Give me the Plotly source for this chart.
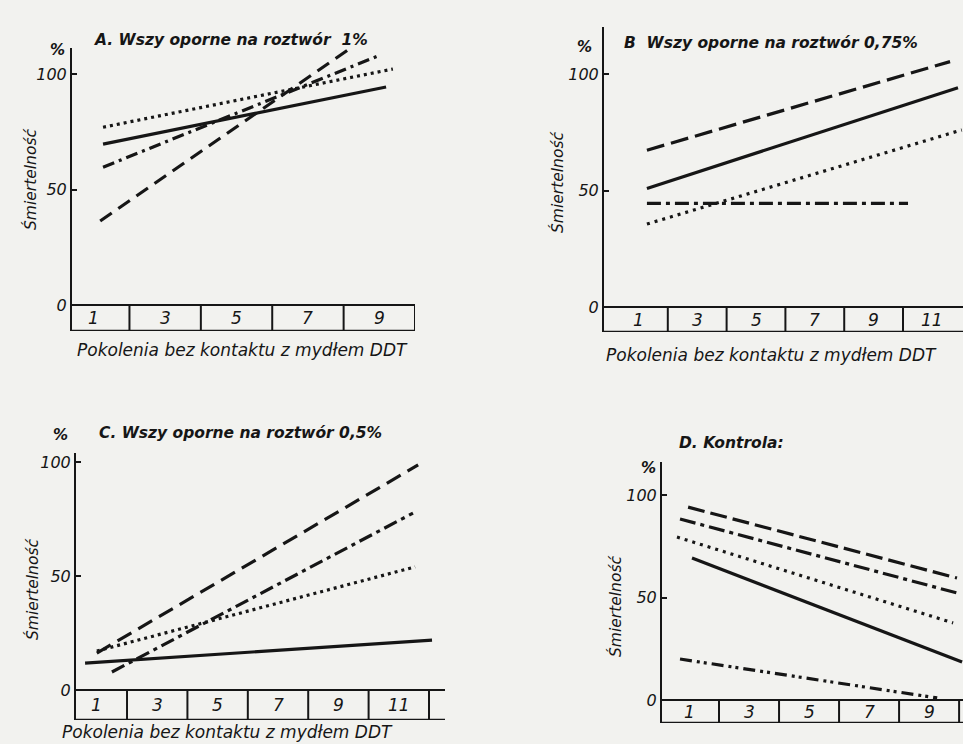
import plotly.graph_objects as go

W, H = 963, 744
INK = "#161616"
BG = "#f2f2ef"

# ---------------- data ----------------
# Panel A: Wszy oporne na roztwór 1%
A_solid_x = [1.26, 9.19];  A_solid_y = [69.7, 94.4]
A_dot_x = [1.26, 9.38];    A_dot_y = [77.0, 102.2]
A_dashdot_x = [1.26, 9.02]; A_dashdot_y = [59.7, 108.2]
A_dash_x = [1.18, 8.52];   A_dash_y = [36.4, 114.7]
A_cells = ["1", "3", "5", "7", "9"]

# Panel B: 0,75%
B_dash_x = [1.29, 11.6];   B_dash_y = [67.3, 105.3]
B_solid_x = [1.29, 11.87]; B_solid_y = [50.9, 94.1]
B_dot_x = [1.29, 12.0];    B_dot_y = [35.6, 76.0]
B_dashdot_x = [1.29, 10.17]; B_dashdot_y = [44.5, 44.5]
B_cells = ["1", "3", "5", "7", "9", "11"]

# Panel C: 0,5%
C_dash_x = [1.0, 11.64];   C_dash_y = [16.2, 98.7]
C_dashdot_x = [1.5, 11.47]; C_dashdot_y = [7.9, 77.6]
C_dot_x = [1.0, 11.54];    C_dot_y = [17.1, 54.0]
C_solid_x = [0.61, 12.1];  C_solid_y = [11.8, 21.9]
C_cells = ["1", "3", "5", "7", "9", "11"]

# Panel D: Kontrola
D_dash_x = [0.97, 9.93];   D_dash_y = [94.1, 59.5]
D_dashdot_x = [0.7, 9.93]; D_dashdot_y = [88.3, 52.2]
D_dot_x = [0.6, 9.8];      D_dot_y = [79.5, 37.6]
D_solid_x = [1.1, 10.1];   D_solid_y = [69.3, 18.5]
D_ddd_x = [0.7, 9.27];     D_ddd_y = [20.0, 1.0]
D_cells = ["1", "3", "5", "7", "9"]

Y_TICKS = [0, 50, 100]
Y_TICKTEXT = ["0", "50", "100"]
X_TITLE = "Pokolenia bez kontaktu z mydłem DDT"
Y_TITLE = "Śmiertelność"

# ---------------- layout geometry (pixels) ----------------
panels = [
    dict(name="A", left=72, right=415, top=48, bottom=331, xr=[0.39, 10.0], yr=[-11.26, 111.3],
         dividers=[2, 4, 6, 8, 10], cells=A_cells,
         title="A. Wszy oporne na roztwór  1%", tx=92, ty=40,
         pct=(57, 50), ytitle=(30, 180), xtitle=(242, 350)),
    dict(name="B", left=604, right=963, top=27, bottom=332, xr=[-0.17, 12.04], yr=[-10.73, 120.17],
         dividers=[2, 4, 6, 8, 10], cells=B_cells,
         title="B  Wszy oporne na roztwór 0,75%", tx=622, ty=43,
         pct=(584, 47), ytitle=(557, 183), xtitle=(771, 355)),
    dict(name="C", left=76, right=445, top=453, bottom=720, xr=[0.31, 12.53], yr=[-13.16, 103.95],
         dividers=[2, 4, 6, 8, 10, 12], cells=C_cells,
         title="C. Wszy oporne na roztwór 0,5%", tx=97, ty=433,
         pct=(60, 435), ytitle=(32, 590), xtitle=(227, 732)),
    dict(name="D", left=662, right=963, top=462, bottom=723, xr=[0.1, 10.13], yr=[-11.22, 116.1],
         dividers=[2, 4, 6, 8, 10], cells=D_cells,
         title="D. Kontrola:", tx=677, ty=443,
         pct=(648, 468), ytitle=(615, 607), xtitle=None),
]

series = {
    "A": [(A_solid_x, A_solid_y, "solid"), (A_dot_x, A_dot_y, "3px,4px"),
          (A_dashdot_x, A_dashdot_y, "12px,5px,3px,5px"), (A_dash_x, A_dash_y, "14px,8px")],
    "B": [(B_dash_x, B_dash_y, "18px,7px"), (B_solid_x, B_solid_y, "solid"),
          (B_dot_x, B_dot_y, "3px,5px"), (B_dashdot_x, B_dashdot_y, "14px,5px,4px,5px")],
    "C": [(C_dash_x, C_dash_y, "16px,8px"), (C_dashdot_x, C_dashdot_y, "14px,5px,4px,5px"),
          (C_dot_x, C_dot_y, "3px,4px"), (C_solid_x, C_solid_y, "solid")],
    "D": [(D_dash_x, D_dash_y, "17px,6px"), (D_dashdot_x, D_dashdot_y, "16px,5px,4px,5px"),
          (D_dot_x, D_dot_y, "3px,5px"), (D_solid_x, D_solid_y, "solid"),
          (D_ddd_x, D_ddd_y, "12px,5px,3px,4px,3px,5px")],
}

FONT = "DejaVu Sans"
fig = go.Figure()
shapes = []
annotations = []

def px_x(p):
    return p / W

def px_y(p):
    return 1 - p / H

for i, p in enumerate(panels):
    n = "" if i == 0 else str(i + 1)
    xa, ya = "x" + n, "y" + n
    for xs, ys, dash in series[p["name"]]:
        fig.add_trace(go.Scatter(x=xs, y=ys, mode="lines", xaxis=xa, yaxis=ya,
                                 line=dict(color=INK, width=3.2, dash=dash),
                                 showlegend=False, hoverinfo="skip"))
    fig.layout["xaxis" + n] = dict(domain=[px_x(p["left"]), min(px_x(p["right"]), 1)],
                                    range=p["xr"], visible=False, anchor=ya, fixedrange=True)
    fig.layout["yaxis" + n] = dict(domain=[px_y(p["bottom"]), px_y(p["top"])],
                                    range=p["yr"], anchor=xa, showline=True, linecolor=INK,
                                    linewidth=2, showgrid=False, zeroline=False,
                                    tickvals=Y_TICKS, ticktext=Y_TICKTEXT,
                                    ticks="inside", ticklen=5, tickwidth=2, tickcolor=INK,
                                    tickfont=dict(family=FONT, size=16, color=INK, style="italic"),
                                    fixedrange=True)
    x0, x1 = p["xr"]
    y0 = p["yr"][0]
    # cell box under the axis
    shapes.append(dict(type="line", xref=xa, yref=ya, x0=x0, x1=x1, y0=0, y1=0,
                       line=dict(color=INK, width=2)))
    shapes.append(dict(type="line", xref=xa, yref=ya, x0=x0, x1=x1, y0=y0, y1=y0,
                       line=dict(color=INK, width=2.5)))
    for d in p["dividers"]:
        shapes.append(dict(type="line", xref=xa, yref=ya, x0=d, x1=d, y0=y0, y1=0,
                           line=dict(color=INK, width=2)))
    for k, lab in enumerate(p["cells"]):
        annotations.append(dict(x=1 + 2 * k, y=y0 / 2, xref=xa, yref=ya, text=lab,
                                showarrow=False,
                                font=dict(family=FONT, size=17, color=INK, style="italic")))
    # titles
    annotations.append(dict(x=px_x(p["tx"]), y=px_y(p["ty"]), xref="paper", yref="paper",
                            text=p["title"], showarrow=False, xanchor="left", yanchor="middle",
                            font=dict(family=FONT, size=15.5, color=INK, style="italic", weight="bold")))
    annotations.append(dict(x=px_x(p["pct"][0]), y=px_y(p["pct"][1]), xref="paper", yref="paper",
                            text="%", showarrow=False, xanchor="center", yanchor="middle",
                            font=dict(family=FONT, size=15, color=INK, style="italic", weight="bold")))
    annotations.append(dict(x=px_x(p["ytitle"][0]), y=px_y(p["ytitle"][1]), xref="paper", yref="paper",
                            text=Y_TITLE, textangle=-90, showarrow=False,
                            xanchor="center", yanchor="middle",
                            font=dict(family=FONT, size=15.5, color=INK, style="italic")))
    if p["xtitle"]:
        annotations.append(dict(x=px_x(p["xtitle"][0]), y=px_y(p["xtitle"][1]), xref="paper", yref="paper",
                                text=X_TITLE, showarrow=False, xanchor="center", yanchor="middle",
                                font=dict(family=FONT, size=17, color=INK, style="italic")))

fig.update_layout(width=W, height=H, margin=dict(l=0, r=0, t=0, b=0),
                  paper_bgcolor=BG, plot_bgcolor=BG, shapes=shapes, annotations=annotations,
                  showlegend=False)
fig.write_html("out.html", config={"displayModeBar": False})
